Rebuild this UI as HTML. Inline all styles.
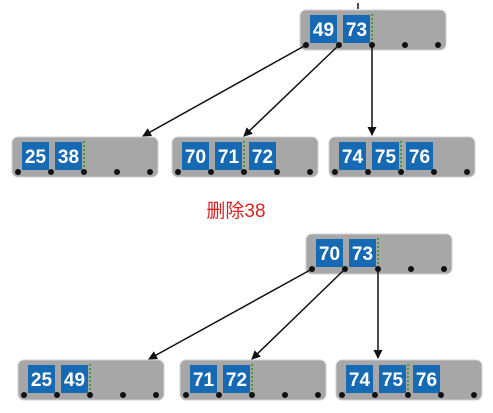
<!DOCTYPE html>
<html><head><meta charset="utf-8"><style>
body{margin:0;background:#fff;width:493px;height:413px;overflow:hidden}
svg{display:block}
</style></head><body>
<svg id="s" width="493" height="413" xmlns="http://www.w3.org/2000/svg">
<defs><marker id="ah" markerWidth="9" markerHeight="9" refX="8" refY="4.5" orient="auto" markerUnits="userSpaceOnUse"><path d="M0,0 L9,4.5 L0,9 z" fill="#111"/></marker></defs>
<text x="236" y="217" text-anchor="middle" font-family="Liberation Sans, Noto Sans CJK SC, sans-serif" font-size="19" fill="#e02020">删除38</text>
</svg>
<script>
const nodeKeys=[["49","73"],["25","38"],["70","71","72"],["74","75","76"],["70","73"],["25","49"],["71","72"],["74","75","76"]];
const nodeNames=["top-root","top-leaf-1","top-leaf-2","top-leaf-3","bottom-root","bottom-leaf-1","bottom-leaf-2","bottom-leaf-3"];
const nodePos=[[300,10],[12,137],[172,137],[329,137],[306,234],[18,360],[180,360],[336,360]];
const edges=[[0,0,1],[0,1,2],[0,2,3],[4,0,5],[4,1,6],[4,2,7]];
const s=document.getElementById('s');
const NS='http://www.w3.org/2000/svg';
function mk(t,a,p){const e=document.createElementNS(NS,t);for(const k in a)e.setAttribute(k,a[k]);(p||s).appendChild(e);return e;}
const W=146,H=40,SP=33;
nodeKeys.forEach((keys,i)=>{
  const [x,y]=nodePos[i];
  const g=mk('g',{});
  
  
  const r=mk('rect',{x:x,y:y,width:W,height:H,rx:6,fill:'#a7a7a7',stroke:'#d0d0d0','stroke-width':1},g);
  
  
  keys.forEach((k,j)=>{
    const kx=j<2?x+10+j*SP:x+77+(j-2)*SP;
    const b=mk('rect',{x:kx,y:y+5,width:27,height:28,fill:'#1669b3'},g);
    
    
    const t=mk('text',{x:kx+13.5,y:y+26,'text-anchor':'middle','font-family':'Liberation Sans, sans-serif','font-size':19,'font-weight':'bold',fill:'#fff'},g);
    t.textContent=k;
    
    
  });
  const dx=x+72;
  const d=mk('line',{x1:dx,y1:y+4,x2:dx,y2:y+34,stroke:'#2a9a2a','stroke-width':1.6,'stroke-dasharray':'2,2'},g);
  
  
  for(let j=0;j<5;j++){
    const c=mk('circle',{cx:x+6+j*SP,cy:y+35,r:3,fill:'#111'},g);
    
    
  }
});
edges.forEach(([p,slot,c])=>{
  const [px,py]=nodePos[p];const [cx,cy]=nodePos[c];
  const x1=px+6+slot*SP,y1=py+35;
  let x2=cx+W-15,y2=cy-1;
  if(slot===1)x2=cx+72;
  if(slot===2){x2=x1;y2=cy-2;}
  const l=mk('line',{x1:x1,y1:y1,x2:x2,y2:y2,stroke:'#111','stroke-width':1.5,'marker-end':'url(#ah)'});
  
  
});
const tk=mk('line',{x1:358,y1:3,x2:358,y2:9,stroke:'#111','stroke-width':1.5});


</script>
</body></html>
